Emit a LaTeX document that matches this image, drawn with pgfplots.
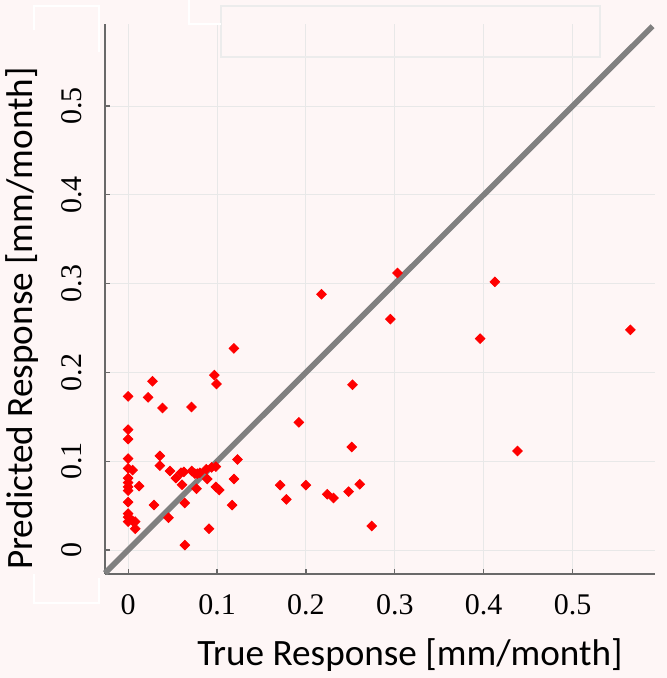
\documentclass[border=0pt]{standalone}
\usepackage{fontspec}
\setmainfont{Liberation Serif}
\newfontfamily\labelfont{Carlito}
\usepackage{pgfplots}
\pgfplotsset{compat=1.18}
\definecolor{bg}{RGB}{254,246,246}
\definecolor{gridc}{RGB}{232,232,232}
\definecolor{axc}{RGB}{105,105,105}
\definecolor{diag}{RGB}{128,128,128}
\definecolor{boxc}{RGB}{236,236,236}
\begin{document}
\begin{tikzpicture}
\path[use as bounding box, fill=bg] (0,0) rectangle (333.5pt,339pt);
\begin{axis}[
  at={(52.5pt,52pt)}, anchor=south west,
  width=275pt, height=275pt, scale only axis,
  xmin=-0.026, xmax=0.5927, ymin=-0.027, ymax=0.5924,
  axis x line*=bottom, axis y line*=left,
  axis line style={axc, line width=0.7pt},
  xtick={0,0.1,0.2,0.3,0.4,0.5}, ytick={0,0.1,0.2,0.3,0.4,0.5},
  xticklabels={0,0.1,0.2,0.3,0.4,0.5}, yticklabels={0,0.1,0.2,0.3,0.4,0.5},
  tick align=inside, major tick length=2.5pt,
  tick style={axc, line width=0.6pt},
  grid=major, major grid style={gridc, line width=0.5pt},
  tick label style={font=\fontsize{15}{18}\selectfont},
  xticklabel style={anchor=base, yshift=-20.5pt},
  yticklabel style={xshift=-11.5pt, rotate=90, anchor=base},
  xlabel={True Response [mm/month]},
  ylabel={Predicted Response [mm/month]},
  label style={font=\labelfont\fontsize{18.6}{21}\selectfont},
  xlabel style={at={(axis description cs:0.5545,-0.1655)}, anchor=base},
  ylabel style={at={(axis description cs:-0.131,0.4645)}, anchor=base},
  clip=false,
]
\addplot[diag, line width=2.8pt] coordinates {(-0.026,-0.026) (0.59,0.59)};
\addplot[only marks, mark=square*, mark size=1.7pt, mark options={rotate=45, fill=red, draw=red}] coordinates {
(0.0274,0.190) (0.097,0.197) (0.0994,0.187) (0.0,0.173) (0.0225,0.172)
(0.0387,0.160) (0.0713,0.161) (0.0,0.1355) (0.0,0.125) (0.0,0.103)
(0.0357,0.106) (0.123,0.102) (0.119,0.227) (0.0,0.092) (0.005,0.090)
(0.0357,0.095) (0.047,0.089) (0.0596,0.087) (0.0627,0.088) (0.0717,0.089)
(0.075,0.086) (0.078,0.086) (0.0807,0.087) (0.088,0.091) (0.094,0.093)
(0.0987,0.094) (0.0537,0.081) (0.0,0.081) (0.0,0.076) (0.0,0.071)
(0.0,0.067) (0.0124,0.072) (0.0607,0.0735) (0.089,0.080) (0.077,0.069)
(0.0987,0.071) (0.1024,0.0676) (0.119,0.080) (0.0,0.054) (0.029,0.0507)
(0.0638,0.053) (0.117,0.0507) (0.0,0.041) (0.0,0.037) (0.0,0.032)
(0.005,0.033) (0.008,0.032) (0.008,0.024) (0.0454,0.0364) (0.091,0.024)
(0.0638,0.0056) (0.171,0.073) (0.178,0.057) (0.2175,0.288) (0.295,0.260)
(0.303,0.312) (0.2524,0.186) (0.192,0.1438) (0.2516,0.116) (0.200,0.073)
(0.224,0.0627) (0.231,0.0586) (0.248,0.0657) (0.2606,0.074) (0.274,0.027)
(0.4125,0.302) (0.396,0.238) (0.438,0.1115) (0.565,0.248)
};
\end{axis}
% empty legend frame and white paste artifacts
\draw[boxc, line width=0.9pt] (110.5pt,310.5pt) rectangle (300pt,336pt);
\draw[white, line width=0.9pt] (17pt,324pt) -- (17pt,336pt) -- (49.5pt,336pt) -- (49.5pt,313pt);
\draw[white, line width=0.9pt] (94.5pt,339pt) -- (94.5pt,327pt) -- (110.5pt,327pt);
\draw[white, line width=0.9pt] (17pt,52pt) -- (17pt,37.5pt) -- (49.5pt,37.5pt) -- (49.5pt,50pt);
\end{tikzpicture}
\end{document}
